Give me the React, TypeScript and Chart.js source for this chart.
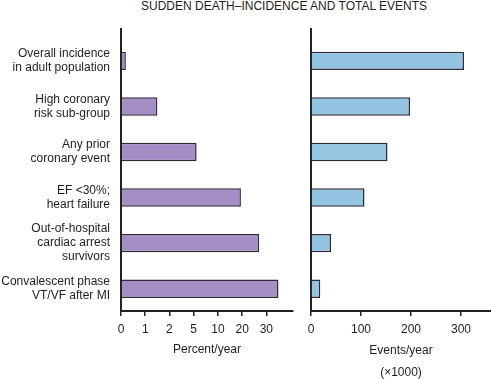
import React, { useEffect, useRef } from "react";
import { Chart, registerables } from "chart.js";

Chart.register(...registerables);

const chartTitle = "SUDDEN DEATH\u2013INCIDENCE AND TOTAL EVENTS";
const categories: string[][] = [
  ["Overall incidence", "in adult population"],
  ["High coronary", "risk sub-group"],
  ["Any prior", "coronary event"],
  ["EF <30%;", "heart failure"],
  ["Out-of-hospital", "cardiac arrest", "survivors"],
  ["Convalescent phase", "VT/VF after MI"],
];
const percentPerYear = [0.2, 1.5, 5.6, 19.5, 27, 35];
const eventsPerYear = [306, 198, 153, 107, 40, 18.5];
const percentTicks = [0, 1, 2, 5, 10, 20, 30];
const eventTicks = [0, 100, 200, 300];
const leftAxisTitle = "Percent/year";
const rightAxisTitle = ["Events/year", "(\u00d71000)"];

const FONT = "'Liberation Sans', Arial, Helvetica, sans-serif";
const TEXT = "#1e1e1e";
const AXIS = "#222";

// piecewise mapping of percent values onto the evenly spaced (non-linear) percent axis
function percentToAxis(v: number): number {
  for (let i = 1; i < percentTicks.length; i++) {
    if (v <= percentTicks[i]) {
      const a = percentTicks[i - 1];
      const b = percentTicks[i];
      return i - 1 + (v - a) / (b - a);
    }
  }
  const n = percentTicks.length - 1;
  const step = percentTicks[n] - percentTicks[n - 1];
  return n + (v - percentTicks[n]) / step;
}

function yScale(showLabels: boolean, width: number) {
  return {
    type: "linear" as const,
    min: -0.7,
    max: 5.49,
    reverse: true,
    offset: false,
    afterBuildTicks: (s: any) => {
      s.ticks = categories.map((_, i) => ({ value: i }));
    },
    afterFit: (s: any) => {
      s.width = width;
    },
    grid: { display: false, drawTicks: false, offset: false },
    border: { display: true, color: AXIS, width: 2 },
    ticks: {
      display: showLabels,
      padding: 11,
      color: TEXT,
      font: { family: FONT, size: 12, lineHeight: "14px" },
      callback: (v: any) => categories[v as number] ?? "",
    },
  };
}

function xScale(max: number, tickVals: number[], labelFor: (v: number) => string, title: any, titleLineHeight: string, titlePadBottom: number) {
  return {
    type: "linear" as const,
    min: 0,
    max,
    afterBuildTicks: (s: any) => {
      s.ticks = tickVals.map((v) => ({ value: v }));
    },
    afterFit: (s: any) => {
      s.height = 68;
    },
    grid: {
      display: true,
      drawOnChartArea: false,
      drawTicks: true,
      tickLength: 5,
      color: AXIS,
      lineWidth: 1.5,
    },
    border: { display: true, color: AXIS, width: 2 },
    ticks: {
      padding: 6.5,
      color: TEXT,
      maxRotation: 0,
      autoSkip: false,
      font: { family: FONT, size: 12 },
      callback: (v: any) => labelFor(v as number),
    },
    title: {
      display: true,
      text: title,
      color: TEXT,
      font: { family: FONT, size: 12, lineHeight: titleLineHeight },
      padding: { top: 0, bottom: titlePadBottom },
    },
  };
}

function Panel(props: { which: "left" | "right"; left: number; width: number }) {
  const ref = useRef<HTMLCanvasElement | null>(null);
  useEffect(() => {
    if (!ref.current) return;
    const isLeft = props.which === "left";
    const data = isLeft
      ? percentPerYear.map((v, i) => ({ x: percentToAxis(v), y: i }))
      : eventsPerYear.map((v, i) => ({ x: v, y: i }));
    const chart = new Chart(ref.current, {
      type: "bar",
      data: {
        datasets: [
          {
            data: data as any,
            backgroundColor: isLeft ? "#a58ec5" : "#93c4e1",
            borderColor: "#2d2b3a",
            borderWidth: 1.5,
            categoryPercentage: 1,
            barPercentage: 0.405,
          },
        ],
      },
      options: {
        indexAxis: "y",
        responsive: false,
        animation: false,
        events: [],
        layout: { padding: { top: 29, right: isLeft ? 7 : 0, bottom: 0, left: 0 } },
        plugins: { legend: { display: false }, tooltip: { enabled: false }, title: { display: false } },
        scales: {
          y: yScale(isLeft, isLeft ? 121 : 11) as any,
          x: (isLeft
            ? xScale(7.1, percentTicks.map((_, i) => i), (v) => String(percentTicks[v] ?? ""), leftAxisTitle, "14.4px", 22.5)
            : xScale(360, eventTicks, (v) => String(v), rightAxisTitle, "22.7px", -5.3)) as any,
        },
      },
    });
    return () => chart.destroy();
  }, []);
  return (
    <canvas
      ref={ref}
      width={props.width}
      height={379}
      style={{ position: "absolute", left: props.left, top: 0, width: props.width, height: 379 }}
    />
  );
}

export default function App() {
  return (
    <div
      style={{
        position: "fixed",
        left: 0,
        top: 0,
        width: 491,
        height: 379,
        background: "#fff",
        overflow: "hidden",
      }}
    >
      <div
        style={{
          position: "absolute",
          left: 134,
          top: 0,
          width: 300,
          height: 13,
          lineHeight: "13px",
          fontSize: 12,
          fontFamily: FONT,
          color: TEXT,
          textAlign: "center",
          whiteSpace: "nowrap",
        }}
      >
        {chartTitle}
      </div>
      <Panel which="left" left={0} width={300} />
      <Panel which="right" left={300} width={191} />
    </div>
  );
}
